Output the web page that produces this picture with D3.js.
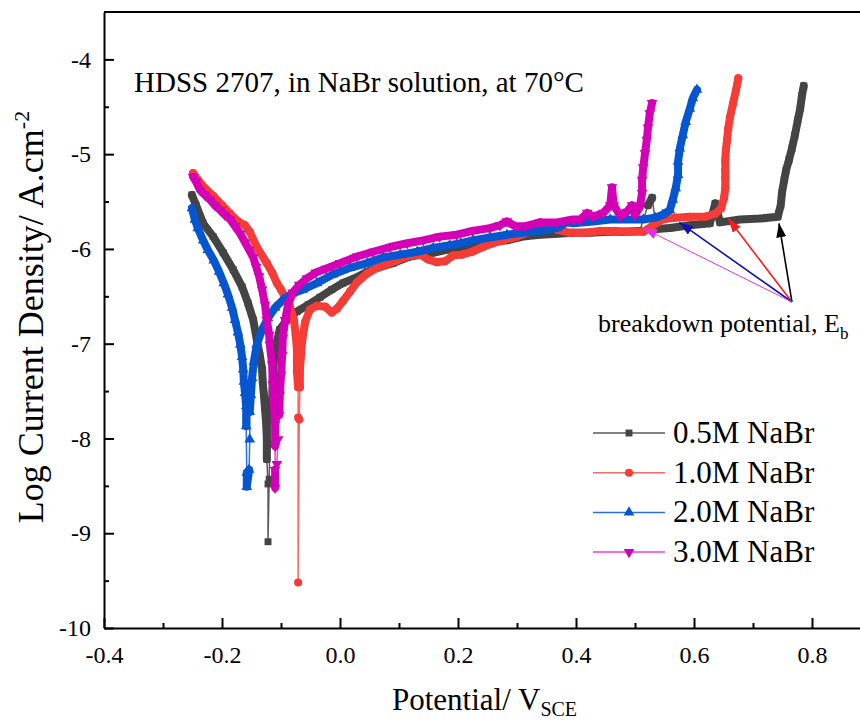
<!DOCTYPE html>
<html>
<head>
<meta charset="utf-8">
<script src="https://cdn.jsdelivr.net/npm/d3@7"></script>
<style>
  body { margin: 0; background: #fff; }
  text { font-family: "Liberation Serif", "Times New Roman", serif; fill: #000; }
</style>
</head>
<body>
<div id="viz"></div>
<script>
    // size of the page
    var width = 860;
    var height = 722;

    // tick labels
    var xTicks = [-0.4, -0.2, 0.0, 0.2, 0.4, 0.6, 0.8];
    var xMinor = [-0.3, -0.1, 0.1, 0.3, 0.5, 0.7];
    var yTicks = [-10, -9, -8, -7, -6, -5, -4];
    var yMinor = [-9.5, -8.5, -7.5, -6.5, -5.5, -4.5];

    var seriesNames = ['0.5M NaBr', '1.0M NaBr', '2.0M NaBr', '3.0M NaBr'];

    // [potential V_SCE, log current density]
    var nabr05 = [
        [-0.251,-5.43],[-0.244,-5.54],[-0.232,-5.73],[-0.215,-5.87],[-0.198,-6.04],[-0.181,-6.22],[-0.166,-6.40],
        [-0.156,-6.57],[-0.147,-6.75],[-0.141,-6.96],[-0.136,-7.12],[-0.132,-7.27],[-0.131,-7.40],[-0.129,-7.54],
        [-0.127,-7.69],[-0.125,-7.85],[-0.124,-8.01],[-0.124,-8.22],[-0.122,-8.48],[-0.122,-9.09],
        [-0.120,-8.43],[-0.119,-8.06],[-0.117,-7.80],[-0.115,-7.59],[-0.114,-7.38],[-0.112,-7.17],[-0.108,-7.01],
        [-0.102,-6.85],[-0.090,-6.75],[-0.073,-6.66],[-0.054,-6.59],[-0.034,-6.51],[-0.014,-6.43],[0.005,-6.36],
        [0.025,-6.31],[0.046,-6.24],[0.068,-6.19],[0.090,-6.15],[0.114,-6.09],[0.136,-6.06],[0.158,-6.04],
        [0.181,-6.01],[0.203,-5.99],[0.225,-5.96],[0.254,-5.93],[0.283,-5.91],[0.310,-5.87],[0.339,-5.85],
        [0.368,-5.84],[0.395,-5.83],[0.424,-5.83],[0.453,-5.82],[0.480,-5.82],[0.508,-5.81],[0.522,-5.54],
        [0.529,-5.46],[0.536,-5.79],[0.559,-5.78],[0.593,-5.75],[0.627,-5.73],[0.636,-5.52],[0.644,-5.72],
        [0.678,-5.69],[0.712,-5.68],[0.742,-5.66],[0.747,-5.54],[0.749,-5.41],[0.753,-5.27],[0.756,-5.17],
        [0.761,-5.06],[0.766,-4.94],[0.771,-4.80],[0.776,-4.64],[0.780,-4.52],[0.783,-4.38],[0.786,-4.28]
    ];

    var nabr10 = [
        [-0.249,-5.20],[-0.241,-5.27],[-0.229,-5.36],[-0.215,-5.44],[-0.200,-5.54],[-0.186,-5.63],[-0.173,-5.71],
        [-0.161,-5.75],[-0.153,-5.82],[-0.141,-5.98],[-0.124,-6.15],[-0.115,-6.25],[-0.107,-6.36],[-0.100,-6.43],
        [-0.093,-6.51],[-0.085,-6.61],
        [-0.078,-6.75],[-0.075,-6.91],[-0.073,-7.06],[-0.073,-7.19],[-0.073,-7.29],[-0.071,-7.46],[-0.071,-7.78],
        [-0.071,-9.52],
        [-0.069,-7.80],[-0.068,-7.46],[-0.068,-7.27],[-0.066,-7.12],[-0.064,-6.96],[-0.059,-6.77],[-0.051,-6.64],
        [-0.039,-6.60],[-0.025,-6.61],[-0.014,-6.67],[-0.005,-6.63],[0.005,-6.55],[0.017,-6.45],[0.029,-6.35],
        [0.046,-6.26],[0.063,-6.20],[0.080,-6.16],[0.097,-6.12],[0.114,-6.08],[0.136,-6.06],[0.149,-6.11],
        [0.164,-6.14],[0.178,-6.13],[0.192,-6.07],[0.207,-6.06],[0.224,-6.03],[0.242,-5.98],[0.259,-5.94],
        [0.276,-5.91],[0.300,-5.87],[0.322,-5.82],[0.339,-5.72],[0.353,-5.75],[0.369,-5.80],[0.390,-5.83],
        [0.415,-5.83],[0.441,-5.81],[0.466,-5.81],[0.492,-5.82],[0.514,-5.82],[0.529,-5.76],[0.546,-5.69],
        [0.568,-5.67],[0.593,-5.66],[0.619,-5.66],[0.636,-5.63],[0.646,-5.57],[0.651,-5.46],[0.653,-5.36],
        [0.653,-5.25],[0.653,-5.17],[0.653,-5.06],[0.654,-4.96],[0.656,-4.85],[0.658,-4.73],[0.661,-4.61],
        [0.666,-4.47],[0.671,-4.33],[0.675,-4.20]
    ];

    var nabr20 = [
        [-0.251,-5.57],[-0.246,-5.69],[-0.241,-5.78],[-0.232,-5.91],[-0.224,-6.01],[-0.214,-6.12],[-0.205,-6.24],
        [-0.197,-6.36],[-0.190,-6.48],[-0.183,-6.62],[-0.178,-6.75],[-0.173,-6.88],[-0.169,-7.01],[-0.166,-7.14],
        [-0.164,-7.27],[-0.163,-7.40],[-0.161,-7.52],[-0.159,-7.66],[-0.159,-7.87],[-0.158,-8.36],[-0.158,-8.51],
        [-0.154,-8.33],[-0.153,-8.01],[-0.153,-7.72],[-0.151,-7.54],[-0.149,-7.36],[-0.146,-7.19],[-0.141,-7.01],
        [-0.132,-6.85],[-0.122,-6.73],[-0.110,-6.62],[-0.097,-6.54],[-0.081,-6.47],[-0.063,-6.43],[-0.039,-6.36],
        [-0.012,-6.27],[0.017,-6.20],[0.046,-6.15],[0.073,-6.09],[0.102,-6.06],[0.131,-6.03],[0.158,-5.99],
        [0.186,-5.96],[0.205,-5.94],[0.225,-5.91],[0.254,-5.88],[0.283,-5.85],[0.310,-5.83],[0.339,-5.81],
        [0.368,-5.78],[0.385,-5.72],[0.395,-5.73],[0.429,-5.71],[0.458,-5.69],[0.486,-5.69],[0.514,-5.69],
        [0.534,-5.67],[0.547,-5.64],[0.559,-5.59],[0.564,-5.48],[0.569,-5.36],[0.573,-5.22],[0.573,-5.08],
        [0.576,-4.94],[0.581,-4.80],[0.586,-4.66],[0.593,-4.52],[0.598,-4.41],[0.605,-4.32]
    ];

    var nabr30 = [
        [-0.249,-5.24],[-0.244,-5.29],[-0.237,-5.38],[-0.229,-5.43],[-0.220,-5.48],[-0.212,-5.54],[-0.203,-5.59],
        [-0.195,-5.64],[-0.186,-5.69],[-0.178,-5.76],[-0.169,-5.84],[-0.161,-5.93],[-0.154,-6.01],[-0.147,-6.09],
        [-0.142,-6.19],[-0.137,-6.29],[-0.132,-6.43],[-0.127,-6.59],[-0.124,-6.75],[-0.120,-6.91],[-0.119,-7.01],
        [-0.115,-7.22],[-0.114,-7.43],[-0.112,-7.64],[-0.110,-7.85],[-0.110,-8.08],[-0.110,-8.33],[-0.110,-8.52],
        [-0.107,-8.27],[-0.105,-8.01],[-0.103,-7.75],[-0.102,-7.54],[-0.100,-7.33],[-0.098,-7.12],[-0.097,-6.94],
        [-0.093,-6.75],[-0.088,-6.59],[-0.080,-6.46],[-0.069,-6.38],[-0.056,-6.31],[-0.041,-6.25],[-0.024,-6.21],
        [0.000,-6.15],[0.029,-6.08],[0.056,-6.03],[0.085,-5.98],[0.114,-5.94],[0.141,-5.91],[0.169,-5.87],
        [0.198,-5.85],[0.225,-5.81],[0.254,-5.78],[0.271,-5.75],[0.283,-5.71],[0.297,-5.76],[0.314,-5.76],
        [0.339,-5.72],[0.368,-5.72],[0.395,-5.69],[0.407,-5.69],[0.419,-5.62],[0.429,-5.66],[0.446,-5.62],
        [0.458,-5.54],[0.461,-5.35],[0.464,-5.54],[0.475,-5.65],[0.486,-5.61],[0.495,-5.54],[0.500,-5.64],
        [0.508,-5.56],[0.512,-5.41],[0.512,-5.27],[0.514,-5.14],[0.517,-4.99],[0.520,-4.85],[0.522,-4.72],
        [0.525,-4.57],[0.529,-4.46]
    ];

    // breakdown potential arrows: common origin, one tip per curve
    var ebOrigin = [0.766, -6.56];
    var ebTips = [[0.744, -5.73], [0.658, -5.68], [0.575, -5.72], [0.514, -5.78]];

    var series = [
        { name: seriesNames[0], data: nabr05, color: '#444444', line: '#5a5a5a', symbol: d3.symbolSquare, size: 48, rot: 0 },
        { name: seriesNames[1], data: nabr10, color: '#f53c37', line: '#f76a66', symbol: d3.symbolCircle, size: 52, rot: 0 },
        { name: seriesNames[2], data: nabr20, color: '#0656cf', line: '#2a70e0', symbol: d3.symbolTriangle, size: 50, rot: 0 },
        { name: seriesNames[3], data: nabr30, color: '#d300b6', line: '#ee3fe0', symbol: d3.symbolTriangle, size: 50, rot: 180 }
    ];

    var svg = d3.select("#viz")
                .append("svg")
                .attr("width", width)
                .attr("height", height);

    var x = d3.scaleLinear().domain([-0.4, 0.9]).range([104, 871]);
    var y = d3.scaleLinear().domain([-10, -3.5]).range([628, 12]);

    // frame top line
    svg.append('line')
        .attr('x1', x(-0.4)).attr('x2', x(0.9))
        .attr('y1', y(-3.5)).attr('y2', y(-3.5))
        .attr('stroke', '#000').attr('stroke-width', 2);

    // minor ticks
    svg.append('g')
        .attr('transform', 'translate(0,' + y(-10) + ')')
        .call(d3.axisBottom(x).tickValues(xMinor).tickSize(-5).tickSizeOuter(0).tickFormat(''))
        .call(g => g.select('.domain').remove());
    svg.append('g')
        .attr('transform', 'translate(' + x(-0.4) + ',0)')
        .call(d3.axisLeft(y).tickValues(yMinor).tickSize(-5).tickSizeOuter(0).tickFormat(''))
        .call(g => g.select('.domain').remove());

    var xAxis = svg.append('g')
        .attr('class', 'x-axis')
        .attr('transform', 'translate(0,' + y(-10) + ')')
        .call(d3.axisBottom(x).tickValues(xTicks).tickSize(-10).tickSizeOuter(0).tickPadding(18)
            .tickFormat(d => d.toFixed(1)));

    var yAxis = svg.append('g')
        .attr('class', 'y-axis')
        .attr('transform', 'translate(' + x(-0.4) + ',0)')
        .call(d3.axisLeft(y).tickValues(yTicks).tickSize(-10).tickSizeOuter(0).tickPadding(13)
            .tickFormat(d => d));

    svg.selectAll('.tick line, .domain').attr('stroke', '#000').attr('stroke-width', 2);
    svg.selectAll('.tick text')
        .style('font-family', '"Liberation Serif", "Times New Roman", serif')
        .style('font-size', '24px')
        .attr('fill', '#000');

    // curves: thin connecting line, a dense band where points are close, then markers
    var plot = svg.append('g');

    series.forEach(function(s) {
        var line = d3.line().x(d => x(d[0])).y(d => y(d[1]));

        plot.append('path')
            .attr('d', line(s.data))
            .attr('fill', 'none')
            .attr('stroke', s.line)
            .attr('stroke-width', 1.5);

        var band = d3.path();
        for (var i = 1; i < s.data.length; i++) {
            var x0 = x(s.data[i - 1][0]), y0 = y(s.data[i - 1][1]);
            var x1 = x(s.data[i][0]), y1 = y(s.data[i][1]);
            if (Math.hypot(x1 - x0, y1 - y0) < 22) {
                band.moveTo(x0, y0);
                band.lineTo(x1, y1);
            }
        }
        plot.append('path')
            .attr('d', band.toString())
            .attr('fill', 'none')
            .attr('stroke', s.color)
            .attr('stroke-width', 8)
            .attr('stroke-linecap', 'round');

        var sym = d3.symbol().type(s.symbol).size(s.size);
        plot.selectAll(null)
            .data(s.data)
            .enter()
            .append('path')
            .attr('d', sym)
            .attr('transform', d => 'translate(' + x(d[0]) + ',' + y(d[1]) + ') rotate(' + s.rot + ')')
            .attr('fill', s.color);
    });

    // arrows to the breakdown potentials
    var arrowColors = ['#000000', '#ff1a1a', '#1010b8', '#e62ee6'];
    var defs = svg.append('defs');
    arrowColors.forEach(function(c, i) {
        defs.append('marker')
            .attr('id', 'head' + i)
            .attr('markerUnits', 'userSpaceOnUse')
            .attr('markerWidth', 14).attr('markerHeight', 10)
            .attr('refX', 14).attr('refY', 5)
            .attr('orient', 'auto')
            .append('path')
            .attr('d', 'M0,0 L14,5 L0,10 Z')
            .attr('fill', c);
    });

    svg.append('g')
        .selectAll('line')
        .data(ebTips)
        .enter()
        .append('line')
        .attr('x1', x(ebOrigin[0])).attr('y1', y(ebOrigin[1]))
        .attr('x2', d => x(d[0])).attr('y2', d => y(d[1]))
        .attr('stroke', (d, i) => arrowColors[i])
        .attr('stroke-width', (d, i) => i === 3 ? 1 : 1.6)
        .attr('marker-end', (d, i) => 'url(#head' + i + ')');

    svg.append('text')
        .attr('x', 598)
        .attr('y', 332)
        .style('font-size', '26px')
        .text('breakdown potential, E')
        .append('tspan')
        .attr('dy', 7)
        .style('font-size', '17px')
        .text('b');

    // title inside plot
    svg.append('text')
        .attr('x', 134)
        .attr('y', 92)
        .style('font-size', '29px')
        .text('HDSS 2707, in NaBr solution, at 70\u00b0C');

    // legend
    var legend = svg.append('g');
    series.forEach(function(s, i) {
        var ly = 433 + i * 39.7;
        legend.append('line')
            .attr('x1', 593).attr('x2', 665)
            .attr('y1', ly).attr('y2', ly)
            .attr('stroke', s.line).attr('stroke-width', 1.5);
        legend.append('path')
            .attr('d', d3.symbol().type(s.symbol).size(s.size)())
            .attr('transform', 'translate(629,' + ly + ') rotate(' + s.rot + ')')
            .attr('fill', s.color);
        legend.append('text')
            .attr('x', 673)
            .attr('y', ly + 10)
            .style('font-size', '31px')
            .text(s.name);
    });

    // axis titles
    var xt = svg.append('text')
        .attr('x', 392)
        .attr('y', 710)
        .style('font-size', '31px')
        .text('Potential/ V');
    xt.append('tspan').attr('dy', 6).style('font-size', '20px').text('SCE');

    var yt = svg.append('text')
        .attr('transform', 'translate(43,317) rotate(-90)')
        .attr('text-anchor', 'middle')
        .style('font-size', '36px')
        .text('Log Current Density/ A.cm');
    yt.append('tspan').attr('dy', -14).style('font-size', '22px').text('-2');
</script>
</body>
</html>
